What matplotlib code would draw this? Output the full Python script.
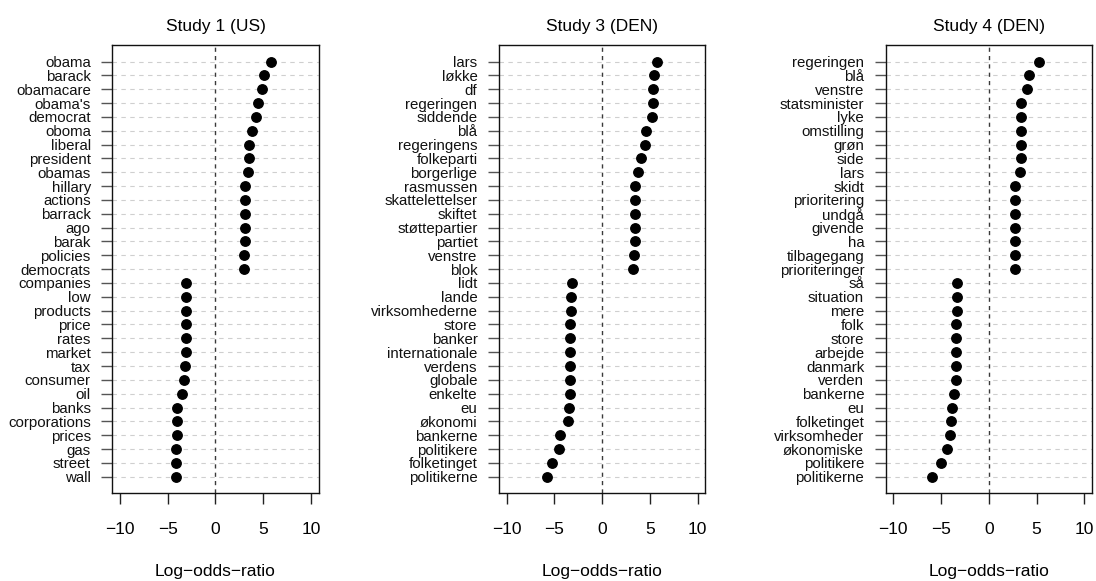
import matplotlib
matplotlib.use("Agg")
import matplotlib.pyplot as plt
from matplotlib.transforms import Bbox, TransformedBbox

plt.rcParams['font.family'] = ['Liberation Sans', 'DejaVu Sans']

titles = ["Study 1 (US)", "Study 3 (DEN)", "Study 4 (DEN)"]
xlabel = "Log\u2212odds\u2212ratio"
xticks = [-10, -5, 0, 5, 10]

# words listed top to bottom
words1 = ["obama", "barack", "obamacare", "obama's", "democrat", "oboma", "liberal",
          "president", "obamas", "hillary", "actions", "barrack", "ago", "barak",
          "policies", "democrats", "companies", "low", "products", "price", "rates",
          "market", "tax", "consumer", "oil", "banks", "corporations", "prices",
          "gas", "street", "wall"]
vals1 = [5.8, 5.13, 4.92, 4.43, 4.26, 3.8, 3.49, 3.49, 3.38, 3.1, 3.1, 3.1, 3.1, 3.1,
         3.04, 2.97, -3.07, -3.07, -3.1, -3.1, -3.1, -3.1, -3.2, -3.28, -3.49, -3.98,
         -4.0, -4.05, -4.08, -4.08, -4.12]

words2 = ["lars", "løkke", "df", "regeringen", "siddende", "blå", "regeringens",
          "folkeparti", "borgerlige", "rasmussen", "skattelettelser", "skiftet",
          "støttepartier", "partiet", "venstre", "blok", "lidt", "lande",
          "virksomhederne", "store", "banker", "internationale", "verdens", "globale",
          "enkelte", "eu", "økonomi", "bankerne", "politikere", "folketinget",
          "politikerne"]
vals2 = [5.77, 5.42, 5.35, 5.3, 5.25, 4.62, 4.44, 4.02, 3.78, 3.43, 3.43, 3.43, 3.43,
         3.43, 3.32, 3.25, -3.15, -3.22, -3.29, -3.32, -3.36, -3.36, -3.36, -3.36,
         -3.39, -3.43, -3.6, -4.38, -4.52, -5.25, -5.77]

words3 = ["regeringen", "blå", "venstre", "statsminister", "lyke", "omstilling", "grøn",
          "side", "lars", "skidt", "prioritering", "undgå", "givende", "ha",
          "tilbagegang", "prioriteringer", "så", "situation", "mere", "folk", "store",
          "arbejde", "danmark", "verden", "bankerne", "eu", "folketinget",
          "virksomheder", "økonomiske", "politikere", "politikerne"]
vals3 = [5.28, 4.16, 3.95, 3.39, 3.39, 3.39, 3.39, 3.39, 3.21, 2.76, 2.76, 2.76, 2.76,
         2.76, 2.76, 2.76, -3.29, -3.36, -3.36, -3.39, -3.39, -3.43, -3.43, -3.46,
         -3.67, -3.81, -3.99, -4.02, -4.41, -5.0, -5.95]

W, H = 1096, 581
fig = plt.figure(figsize=(W / 100, H / 100), dpi=100)

lefts = [112.3, 499.0, 885.7]
box_w = 206.3
box_bottom = 581 - 493.3
box_h = 493.3 - 45.0

for i, (left, title, words, vals) in enumerate(zip(lefts, titles,
                                                   [words1, words2, words3],
                                                   [vals1, vals2, vals3])):
    ax = fig.add_axes([left / W, box_bottom / H, box_w / W, box_h / H])
    n = len(words)
    ypos = list(range(n, 0, -1))
    for y in ypos:
        ax.axhline(y, color='#cfcfcf', lw=0.8, ls=(0, (4, 4)), zorder=1)
    ax.axvline(0, color='#3a3a3a', lw=1.0, ls=(0, (3, 3)), zorder=2)
    ax.plot(vals, ypos, 'o', color='black', markersize=6.8, zorder=3, linestyle='none')
    ax.set_xlim(-10.8, 10.8)
    span = n - 1
    ax.set_ylim(1 - 0.04 * span, n + 0.04 * span)
    ax.set_yticks(ypos)
    ax.set_yticklabels(words, fontsize=10.8, color='#111111')
    ax.set_xticks(xticks)
    ax.set_xticklabels(["\u221210", "\u22125", "0", "5", "10"], fontsize=12.5)
    ax.tick_params(axis='y', length=8, width=1.0, color='#555555', pad=7.5)
    ax.tick_params(axis='x', length=8, width=1.0, color='#222222', pad=13)
    for s in ax.spines.values():
        s.set_linewidth(1.0)
        s.set_color('#111111')
    ax.set_title(title, fontsize=12.5, pad=10)
    ax.set_xlabel(xlabel, fontsize=12.5, labelpad=19)
    # clip labels to this panel's figure region (as the panel layout does)
    region = TransformedBbox(Bbox.from_extents(i / 3, 0, (i + 1) / 3, 1), fig.transFigure)
    for lbl in ax.get_yticklabels():
        lbl.set_clip_box(region)
        lbl.set_clip_on(True)

fig.savefig("out.png", dpi=100)
